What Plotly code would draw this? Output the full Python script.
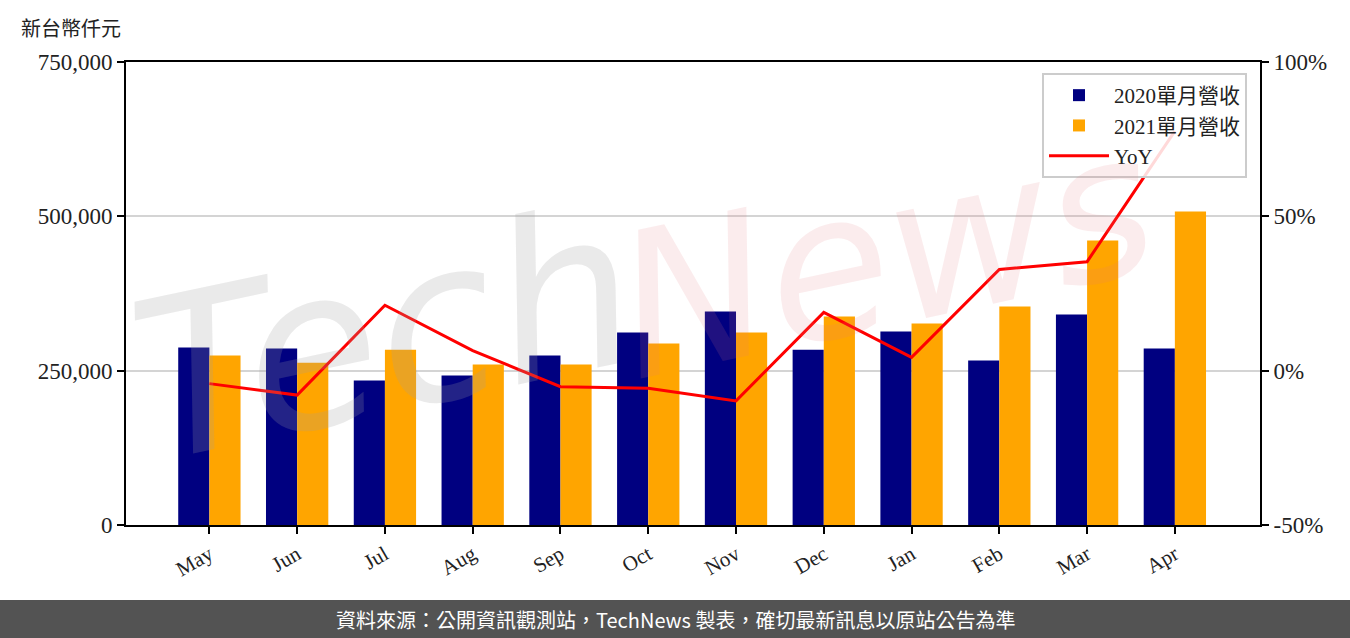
import plotly.graph_objects as go

months = ["May", "Jun", "Jul", "Aug", "Sep", "Oct", "Nov", "Dec", "Jan", "Feb", "Mar", "Apr"]
rev_2020 = [287500, 286000, 234000, 242000, 274500, 311800, 345900, 284000, 313500, 266500, 341000, 286000]
rev_2021 = [274600, 263000, 284000, 260000, 260000, 294000, 311800, 337800, 326400, 354000, 460900, 507900]
yoy = [-0.042, -0.079, 0.212, 0.065, -0.052, -0.057, -0.098, 0.189, 0.043, 0.328, 0.353, 0.776]
yoy_ticks = [-0.5, 0.0, 0.5, 1.0]
yoy_tick_text = ["-50%", "0%", "50%", "100%"]

W, H = 1350, 638
L, R, T, B = 126, 1260, 62, 525
pw, ph = R - L, B - T

def px(x):
    return (x - L) / pw

def py(y):
    return (B - y) / ph

serif = "Liberation Serif, Noto Sans CJK TC, serif"
cjk = "Noto Sans CJK TC, sans-serif"

fig = go.Figure()
fig.add_trace(go.Bar(x=list(range(12)), y=rev_2020, name="2020單月營收",
                     marker=dict(color="#000080", line=dict(width=0)), offsetgroup="a"))
fig.add_trace(go.Bar(x=list(range(12)), y=rev_2021, name="2021單月營收",
                     marker=dict(color="#FFA500", line=dict(width=0)), offsetgroup="b"))
fig.add_trace(go.Scatter(x=list(range(12)), y=yoy, name="YoY", mode="lines",
                         line=dict(color="#FF0000", width=3), yaxis="y2"))

fig.update_layout(
    width=W, height=H,
    margin=dict(l=L, r=W - R, t=T, b=H - B, pad=0),
    paper_bgcolor="white", plot_bgcolor="white",
    barmode="group", bargap=0.29, bargroupgap=0,
    font=dict(family=serif, size=20, color="#222"),
    xaxis=dict(range=[-0.95, 11.97], tickmode="array", tickvals=list(range(12)), ticktext=months,
               tickangle=-30, ticks="outside", ticklen=7, tickwidth=2, tickcolor="black",
               showline=True, linecolor="black", linewidth=2, mirror=True, showgrid=False,
               zeroline=False, tickfont=dict(family=serif, size=21, color="#222")),
    yaxis=dict(range=[0, 750000], dtick=250000, tickformat=",d", ticks="outside", ticklen=7,
               tickwidth=2, tickcolor="black", showline=True, linecolor="black", linewidth=2,
               showgrid=True, gridcolor="#d4d4d4", gridwidth=2, zeroline=False,
               tickfont=dict(family=serif, size=23, color="#222")),
    yaxis2=dict(range=[-0.5, 1.0], tickmode="array", tickvals=yoy_ticks, ticktext=yoy_tick_text,
                overlaying="y", side="right",
                ticks="outside", ticklen=7, tickwidth=2, tickcolor="black", showline=True,
                linecolor="black", linewidth=2, showgrid=False, zeroline=False,
                tickfont=dict(family=serif, size=23, color="#222")),
    legend=dict(x=px(1247), xanchor="right", y=py(73), yanchor="top",
                bgcolor="rgba(255,255,255,0.85)", bordercolor="#cccccc", borderwidth=2,
                font=dict(family=serif, size=21, color="#222"), tracegroupgap=2,
                itemwidth=60),
    showlegend=True,
)

# watermark
fig.add_annotation(text="Tech", x=px(385), y=py(335), xref="paper", yref="paper",
                   xanchor="center", yanchor="middle",
                   showarrow=False, textangle=-12,
                   font=dict(family="DejaVu Sans", size=220, style="italic",
                             color="rgba(160,160,160,0.22)"))
fig.add_annotation(text="News", x=px(885), y=py(255), xref="paper", yref="paper",
                   xanchor="center", yanchor="middle",
                   showarrow=False, textangle=-12,
                   font=dict(family="DejaVu Sans", size=200, style="italic",
                             color="rgba(225,120,130,0.14)"))

# unit label
fig.add_annotation(text="新台幣仟元", x=px(19), y=py(27), xref="paper", yref="paper",
                   xanchor="left", yanchor="middle", showarrow=False,
                   font=dict(family=cjk, size=20, color="#222"))

# footer
fig.add_shape(type="rect", xref="paper", yref="paper", x0=px(-5), x1=px(W + 5),
              y0=py(600), y1=py(H + 5), fillcolor="#535353", line=dict(width=0), layer="above")
fig.add_annotation(text="資料來源：公開資訊觀測站，TechNews 製表，確切最新訊息以原站公告為準",
                   x=px(675), y=py(619), xref="paper", yref="paper", showarrow=False,
                   xanchor="center", yanchor="middle",
                   font=dict(family=cjk, size=20, color="white"))

fig.write_html("out.html", config={"displayModeBar": False},
               post_script="document.body.style.margin='0';document.body.style.overflow='hidden';")
